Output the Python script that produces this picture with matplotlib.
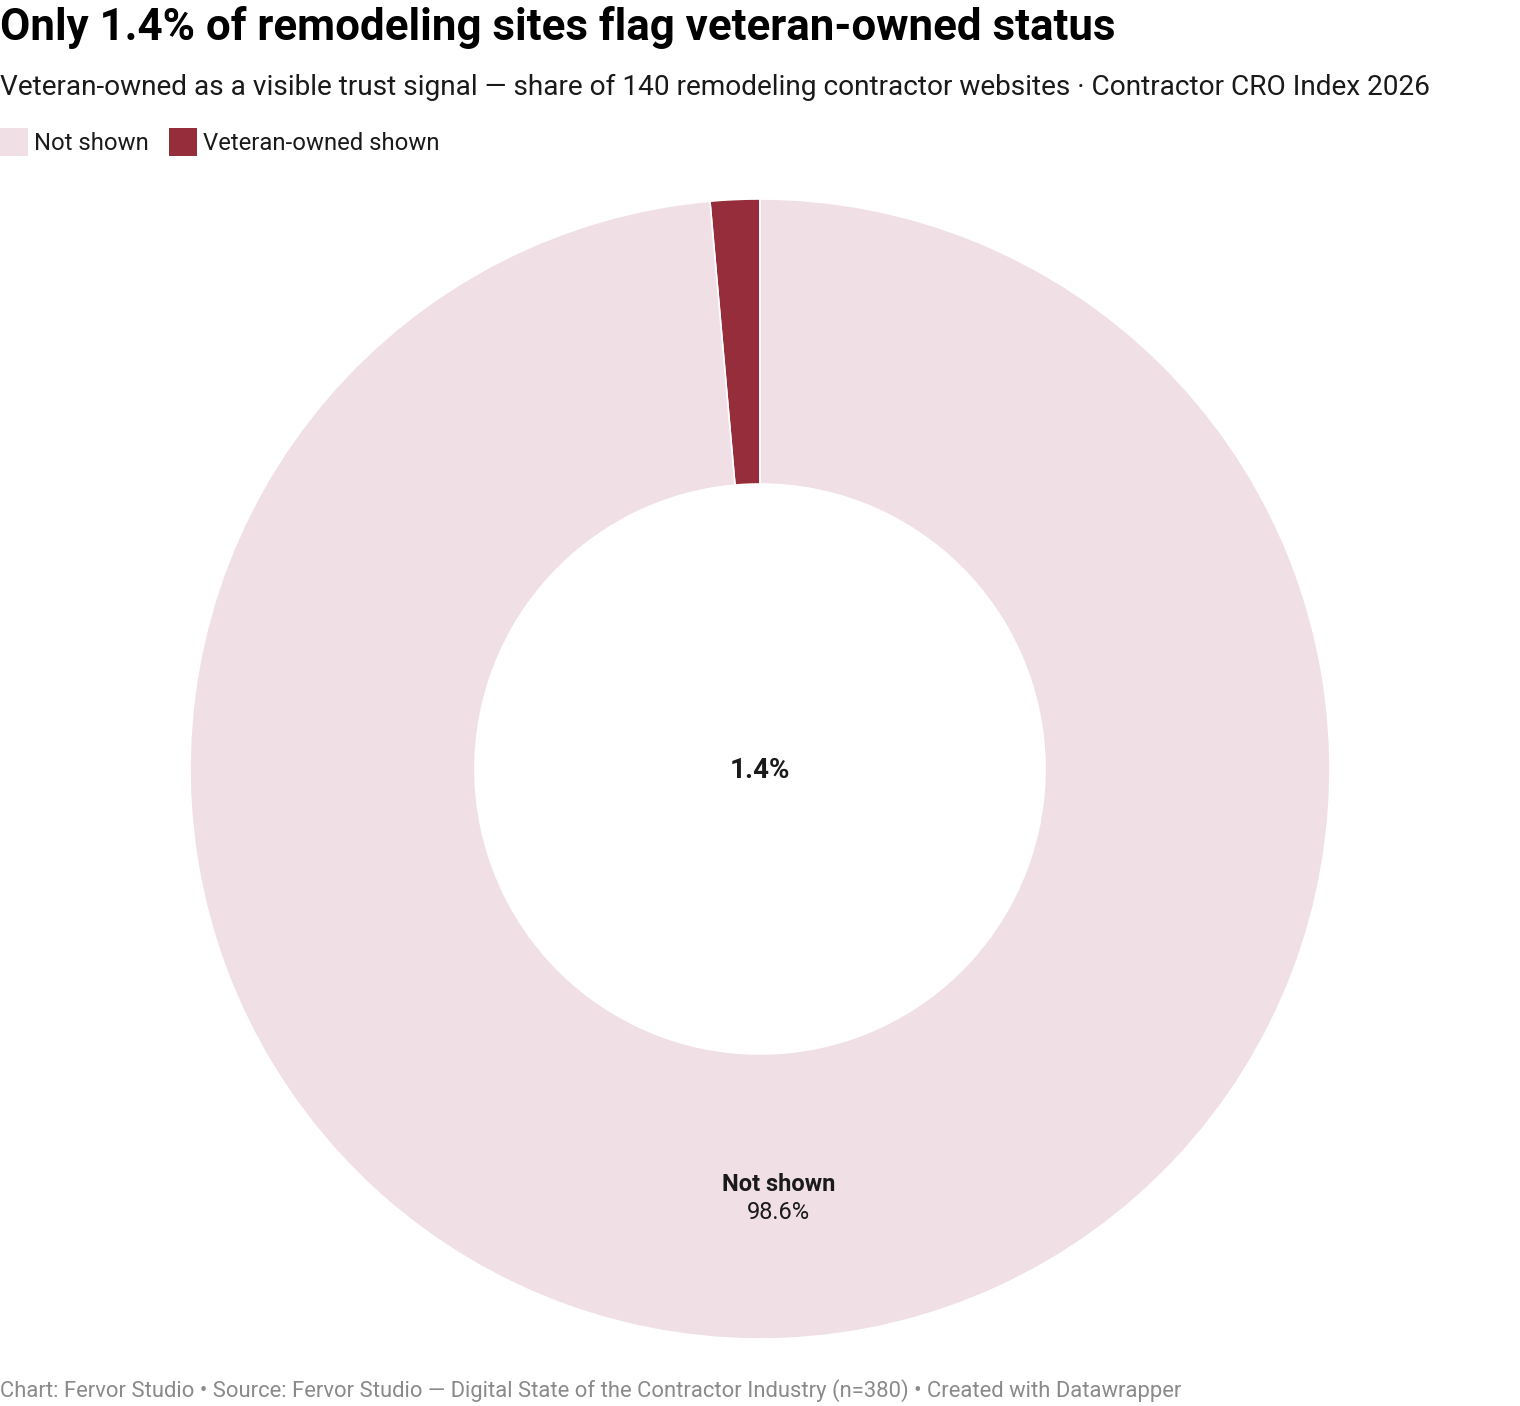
import numpy as np
import matplotlib
matplotlib.use("Agg")
import matplotlib.pyplot as plt
from matplotlib.patches import Rectangle

plt.rcParams['font.family'] = ['Roboto', 'DejaVu Sans']

categories = ["Veteran-owned shown", "Not shown"]
values = [1.4, 98.6]
colors = ["#962d3a", "#f0dfe5"]

title = "Only 1.4% of remodeling sites flag veteran-owned status"
subtitle = ("Veteran-owned as a visible trust signal \u2014 share of 140 remodeling contractor websites "
            "\u00b7 Contractor CRO Index 2026")
footer = ("Chart: Fervor Studio \u2022 Source: Fervor Studio \u2014 Digital State of the Contractor "
          "Industry (n=380) \u2022 Created with Datawrapper")

W, H = 1520, 1406
fig = plt.figure(figsize=(W / 100, H / 100), dpi=100)

cx, cy, R = 760, 769, 570
ax = fig.add_axes([(cx - R) / W, (H - cy - R) / H, 2 * R / W, 2 * R / H])
wedges, _ = ax.pie(values, colors=colors, startangle=90, counterclock=True, radius=1.0,
                   wedgeprops=dict(width=0.5, edgecolor="white", linewidth=1.2))
ax.set_xlim(-1, 1)
ax.set_ylim(-1, 1)
ax.set_aspect("equal")
ax.axis("off")

# center label
ax.text(0, 1 / R, f"{values[0]:.1f}%", ha="center", va="center_baseline", fontsize=20,
        fontweight="bold", color="#1a1a1a")

# label for large slice
w = wedges[1]
mid = np.deg2rad((w.theta1 + w.theta2) / 2)
lx, ly = 0.75 * np.cos(mid), 0.75 * np.sin(mid)
ax.text(lx, ly + (1196 - 1191) / R, categories[1], ha="center", va="baseline", fontsize=17,
        fontweight="bold", color="#1a1a1a")
ax.text(lx, ly - (1219 - 1196) / R, f"{values[1]:.1f}%", ha="center", va="baseline", fontsize=17,
        color="#1a1a1a")

# title / subtitle
fig.text(0 / W, 1 - 40 / H, title, ha="left", va="baseline", fontsize=31.6,
         fontweight="bold", color="#000000")
fig.text(0 / W, 1 - 95 / H, subtitle, ha="left", va="baseline", fontsize=20.15,
         color="#1a1a1a")

# legend
leg_items = [("Not shown", colors[1]), ("Veteran-owned shown", colors[0])]
x = 0
for lab, col in leg_items:
    fig.patches.append(Rectangle((x / W, 1 - 156 / H), 28 / W, 28 / H, transform=fig.transFigure,
                                 facecolor=col, edgecolor="none"))
    t = fig.text((x + 34) / W, 1 - 150 / H, lab, ha="left", va="baseline", fontsize=17.2,
                 color="#1a1a1a")
    fig.canvas.draw()
    bb = t.get_window_extent()
    x = bb.x1 + 20

# footer
fig.text(0, 1 - 1397 / H, footer, ha="left", va="baseline", fontsize=15.8, color="#8a8a8a")

fig.savefig("out.png", dpi=100, facecolor="white")
